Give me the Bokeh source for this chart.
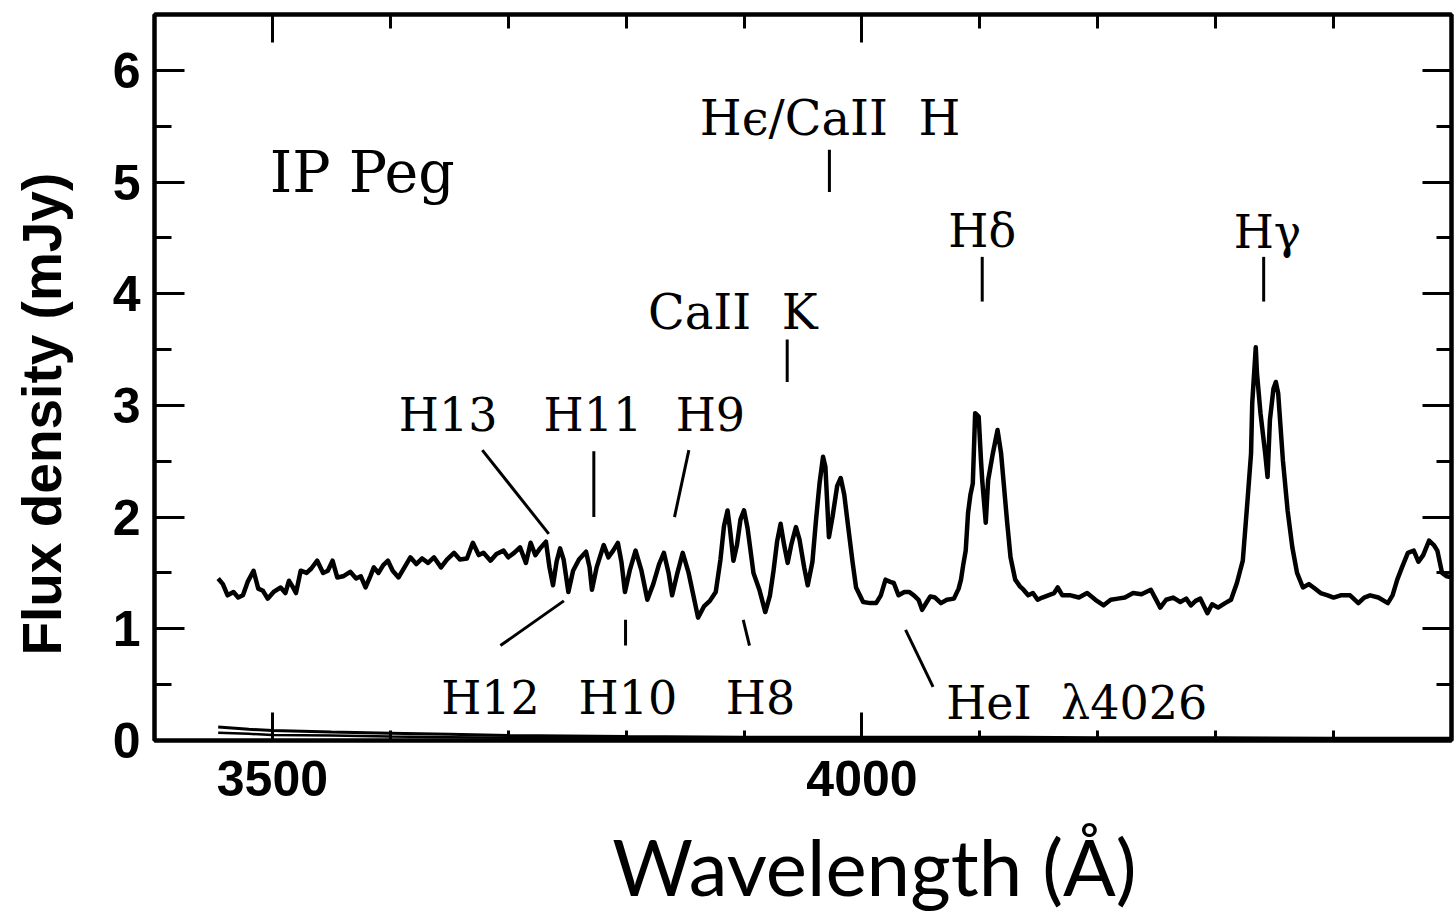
from bokeh.plotting import figure
from bokeh.models import LinearAxis, FixedTicker
from bokeh.core.properties import value
from bokeh.embed import file_html
from bokeh.resources import INLINE

# ---------------- data ----------------
wavelength = [3454, 3458, 3462, 3467, 3471, 3475, 3479, 3484, 3488, 3492, 3496, 3501, 3507, 3511,
              3514, 3517, 3520, 3524, 3529, 3533, 3538, 3543, 3547, 3551, 3555, 3560, 3566, 3571,
              3575, 3579, 3583, 3586, 3590, 3594, 3598, 3602, 3607, 3612, 3617, 3622, 3627, 3632,
              3637, 3643, 3648, 3654, 3659, 3665, 3670, 3675, 3679, 3685, 3690, 3696, 3700, 3705,
              3710, 3715, 3719, 3723, 3727, 3732, 3735, 3738, 3741, 3744, 3747, 3751, 3755, 3760,
              3766, 3769, 3771, 3775, 3781, 3785, 3789, 3793, 3796, 3799, 3803, 3808, 3813, 3818,
              3823, 3828, 3832, 3836, 3839, 3843, 3848, 3853, 3857, 3861, 3866, 3871, 3876, 3880,
              3883, 3886, 3888, 3891, 3894, 3897, 3900, 3903, 3908, 3913, 3918, 3922, 3925, 3928,
              3931, 3934, 3937, 3940, 3944, 3947, 3951, 3954, 3958, 3961, 3964, 3967, 3969, 3972,
              3975, 3979, 3982, 3985, 3988, 3992, 3995, 4001, 4007, 4012, 4016, 4020, 4024, 4027,
              4031, 4036, 4040, 4044, 4048, 4051, 4055, 4058, 4062, 4067, 4072, 4078, 4082, 4084,
              4086, 4088, 4090, 4092, 4094, 4096, 4099, 4101, 4102, 4105, 4107, 4111, 4115, 4118,
              4120, 4123, 4126, 4130, 4134, 4137, 4141, 4145, 4149, 4153, 4158, 4163, 4166, 4170,
              4177, 4184, 4191, 4198, 4205, 4211, 4217, 4223, 4230, 4237, 4245, 4249, 4253, 4258,
              4264, 4270, 4275, 4279, 4283, 4287, 4293, 4297, 4302, 4308, 4313, 4318, 4323, 4327,
              4330, 4331, 4334, 4335, 4338, 4342, 4344, 4346, 4349, 4351, 4353, 4357, 4361, 4365,
              4369, 4374, 4379, 4383, 4389, 4395, 4400, 4406, 4414, 4421, 4426, 4431, 4438, 4446,
              4450, 4454, 4458, 4463, 4468, 4472, 4476, 4481, 4485, 4488, 4492, 4496, 4500]
flux = [1.45, 1.40, 1.30, 1.33, 1.28, 1.30, 1.42, 1.52, 1.36, 1.34, 1.27, 1.33, 1.37, 1.32,
        1.43, 1.38, 1.32, 1.52, 1.50, 1.54, 1.61, 1.50, 1.52, 1.61, 1.46, 1.47, 1.51, 1.45,
        1.47, 1.37, 1.47, 1.55, 1.50, 1.57, 1.61, 1.52, 1.46, 1.55, 1.64, 1.58, 1.63, 1.59,
        1.64, 1.55, 1.62, 1.68, 1.62, 1.63, 1.77, 1.66, 1.68, 1.61, 1.67, 1.70, 1.64, 1.68,
        1.73, 1.59, 1.77, 1.66, 1.72, 1.78, 1.55, 1.39, 1.60, 1.72, 1.62, 1.33, 1.52, 1.62,
        1.69, 1.55, 1.35, 1.55, 1.75, 1.64, 1.70, 1.77, 1.60, 1.33, 1.52, 1.70, 1.52, 1.26,
        1.40, 1.58, 1.68, 1.50, 1.30, 1.48, 1.68, 1.50, 1.30, 1.10, 1.20, 1.25, 1.33, 1.62,
        1.92, 2.06, 1.90, 1.61, 1.75, 1.98, 2.06, 1.90, 1.50, 1.35, 1.15, 1.30, 1.52, 1.78,
        1.94, 1.75, 1.59, 1.75, 1.91, 1.80, 1.55, 1.39, 1.60, 1.97, 2.30, 2.54, 2.45, 1.82,
        2.00, 2.28, 2.35, 2.20, 1.94, 1.60, 1.37, 1.24, 1.23, 1.23, 1.30, 1.44, 1.42, 1.41,
        1.30, 1.33, 1.33, 1.30, 1.26, 1.17, 1.24, 1.29, 1.28, 1.23, 1.26, 1.27, 1.36, 1.44,
        1.58, 1.70, 2.04, 2.20, 2.30, 2.93, 2.90, 2.50, 2.33, 1.95, 2.33, 2.57, 2.78, 2.57,
        2.33, 1.97, 1.64, 1.44, 1.38, 1.35, 1.30, 1.32, 1.26, 1.28, 1.30, 1.32, 1.37, 1.30,
        1.30, 1.28, 1.32, 1.26, 1.21, 1.26, 1.27, 1.28, 1.32, 1.31, 1.35, 1.27, 1.19, 1.26,
        1.28, 1.24, 1.27, 1.21, 1.25, 1.27, 1.14, 1.22, 1.19, 1.23, 1.26, 1.41, 1.61, 2.15,
        2.57, 3.02, 3.52, 3.29, 2.93, 2.57, 2.36, 2.87, 3.15, 3.21, 3.11, 2.51, 2.06, 1.73,
        1.50, 1.37, 1.40, 1.37, 1.32, 1.30, 1.28, 1.30, 1.30, 1.23, 1.28, 1.30, 1.28, 1.23,
        1.30, 1.44, 1.55, 1.68, 1.70, 1.60, 1.66, 1.79, 1.75, 1.70, 1.50, 1.47, 1.46]

# faint curves lying along zero
low_wl = [3454, 3480, 3500, 3550, 3600, 3650, 3700, 3800, 3900, 4000, 4100, 4200, 4300, 4400, 4500]
low_a = [0.12, 0.10, 0.09, 0.075, 0.065, 0.055, 0.045, 0.035, 0.03, 0.03, 0.03, 0.025, 0.025, 0.02, 0.02]
low_b = [0.07, 0.06, 0.05, 0.045, 0.035, 0.03, 0.025, 0.02, 0.02, 0.015, 0.015, 0.01, 0.01, 0.01, 0.01]

NB = "\u00a0"
# line identifications (small labels, centred)
small_names = ["H13", "H11", "H9", "H12", "H10", "H8", "H\u03b4", "H\u03b3"]
small_x = [3649, 3771.8, 3871.5, 3685, 3801.5, 3914, 4102, 4344]
small_y = [2.91, 2.91, 2.91, 0.38, 0.38, 0.38, 4.56, 4.55]

# larger labels, centred
big_names = ["CaII" + NB + NB + "K", "H\u03f5/CaII" + NB + NB + "H"]
big_x = [3890.5, 3973]
big_y = [3.84, 5.57]

hei_name = ["HeI" + NB + NB + "\u03bb4026"]
hei_x = [4071.5]
hei_y = [0.34]

star_name = ["IP" + NB + "Peg"]
star_x = [3497.8]
star_y = [5.09]

# pointer strokes (H13, H11, H9, H12, H10, H8, CaK, He/CaH, Hd, Hg, HeI)
ptr_x0 = [3678.0, 3772.6, 3853.2, 3693.4, 3799.5, 3899.3, 3936.6, 3972.4, 4102.0, 4340.7, 4037.0]
ptr_y0 = [2.60, 2.59, 2.60, 0.85, 1.08, 1.08, 3.59, 5.29, 4.33, 4.33, 0.99]
ptr_x1 = [3734.4, 3772.6, 3841.0, 3747.2, 3799.5, 3904.6, 3936.6, 3972.4, 4102.0, 4340.7, 4060.3]
ptr_y1 = [1.85, 2.00, 2.00, 1.25, 0.85, 0.85, 3.21, 4.91, 3.93, 3.93, 0.48]

x_major = [3500, 4000]
x_minor = [3400, 3600, 3700, 3800, 3900, 4100, 4200, 4300, 4400, 4500]
y_major = [0, 1, 2, 3, 4, 5, 6]
y_minor = [0.5, 1.5, 2.5, 3.5, 4.5, 5.5]

x_title = "\u2003\u2002\u2004\u2005Wavelength (\u00c5)"
y_title = "Flux density (mJy)\u2003\u2004"

# ---------------- figure ----------------
p = figure(width=1454, height=915, x_range=(3400, 4500), y_range=(0, 6.5),
           output_backend="svg", toolbar_location=None,
           min_border_left=154, min_border_right=3, min_border_top=14, min_border_bottom=175,
           x_axis_location=None, y_axis_location=None)
p.background_fill_color = "white"
p.border_fill_color = "white"
p.grid.visible = False
p.outline_line_color = "black"
p.outline_line_width = 4

xt = FixedTicker(ticks=x_major, minor_ticks=x_minor)
yt = FixedTicker(ticks=y_major, minor_ticks=y_minor)


def style(ax, labels, maj, mnr):
    ax.axis_line_color = "black"
    ax.axis_line_width = 4
    ax.major_tick_line_color = "black"
    ax.major_tick_line_width = 3
    ax.minor_tick_line_color = "black"
    ax.minor_tick_line_width = 3
    ax.major_tick_in = maj
    ax.major_tick_out = 0
    ax.minor_tick_in = mnr
    ax.minor_tick_out = 0
    if labels:
        ax.major_label_text_font = "Liberation Sans"
        ax.major_label_text_font_style = "bold"
        ax.major_label_text_font_size = "50px"
        ax.major_label_text_color = "black"
    else:
        ax.major_label_text_font_size = "1px"
        ax.major_label_text_color = None
        ax.major_label_standoff = 0


left = LinearAxis(ticker=yt)
style(left, True, 30, 17)
left.major_label_standoff = 14
left.axis_label = y_title
left.axis_label_text_font = "Liberation Sans"
left.axis_label_text_font_style = "bold"
left.axis_label_text_font_size = "55px"
left.axis_label_text_color = "black"
left.axis_label_standoff = 37

right = LinearAxis(ticker=yt)
style(right, False, 29, 15)

below = LinearAxis(ticker=xt)
style(below, True, 28, 10)
below.major_label_standoff = 20
below.axis_label = x_title
below.axis_label_text_font = "Lato"
below.axis_label_text_font_style = "normal"
below.axis_label_text_font_size = "78px"
below.axis_label_text_color = "black"
below.axis_label_standoff = 20

above = LinearAxis(ticker=xt)
style(above, False, 28, 14)

p.add_layout(left, "left")
p.add_layout(right, "right")
p.add_layout(below, "below")
p.add_layout(above, "above")

# spectrum
p.line(low_wl, low_a, line_color="black", line_width=3)
p.line(low_wl, low_b, line_color="black", line_width=2.5)
p.line(wavelength, flux, line_color="black", line_width=4.5, line_join="round")

# pointers
p.segment(x0=ptr_x0, y0=ptr_y0, x1=ptr_x1, y1=ptr_y1, line_color="black", line_width=3)

serif = value("DejaVu Serif")
p.text(x=small_x, y=small_y, text=small_names, text_font=serif,
       text_font_size=value("46px"), text_align="center", text_baseline="alphabetic",
       text_color="black")
p.text(x=big_x, y=big_y, text=big_names, text_font=serif,
       text_font_size=value("48px"), text_align="center", text_baseline="alphabetic",
       text_color="black")
p.text(x=hei_x, y=hei_y, text=hei_name, text_font=serif,
       text_font_size=value("46px"), text_align="left", text_baseline="alphabetic",
       text_color="black")
p.text(x=star_x, y=star_y, text=star_name, text_font=serif,
       text_font_size=value("57px"), text_align="left", text_baseline="alphabetic",
       text_color="black")

open("out.html", "w").write(file_html(p, INLINE))
